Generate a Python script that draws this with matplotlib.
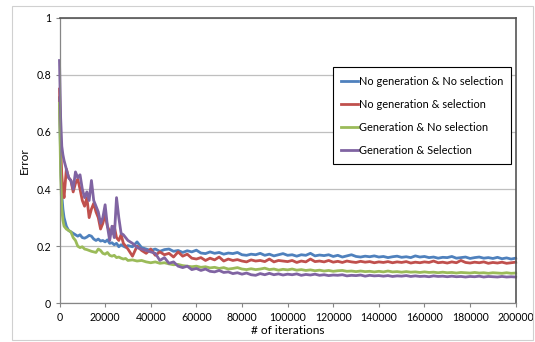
import matplotlib
matplotlib.use("Agg")
import matplotlib.pyplot as plt
from matplotlib.patches import Rectangle

plt.rcParams.update({"font.family": ["Lato", "DejaVu Sans"]})

# iterations: fine steps at the start, then every 2000
iters_early = [0, 500, 1000, 1500] + list(range(2000, 30001, 1000))
iters_late = list(range(32000, 200001, 2000))
iters = iters_early + iters_late

labels = ["No generation & No selection", "No generation & selection",
          "Generation & No selection", "Generation & Selection"]
colors = ["#4F81BD", "#C0504D", "#9BBB59", "#8064A2"]

no_gen_no_sel = [
    0.72, 0.50, 0.38, 0.33, 0.30, 0.27, 0.255, 0.25, 0.245, 0.24, 0.235, 0.24, 0.23,
    0.228, 0.232, 0.238, 0.235, 0.225, 0.22, 0.225, 0.218, 0.22, 0.215, 0.222, 0.21,
    0.212, 0.205, 0.21, 0.198, 0.205, 0.20, 0.196, 0.202,
    0.198, 0.215, 0.195, 0.19, 0.185, 0.19, 0.182, 0.188, 0.19, 0.182,
    0.185, 0.178, 0.184, 0.18, 0.186, 0.176, 0.174, 0.18, 0.175, 0.178,
    0.172, 0.176, 0.174, 0.178, 0.17, 0.168, 0.172, 0.17, 0.175, 0.168,
    0.172, 0.166, 0.17, 0.174, 0.168, 0.17, 0.165, 0.17, 0.168, 0.175,
    0.166, 0.169, 0.167, 0.17, 0.164, 0.168, 0.162, 0.166, 0.17, 0.164,
    0.162, 0.165, 0.163, 0.166, 0.162, 0.164, 0.16, 0.163, 0.165, 0.161,
    0.163, 0.16, 0.166, 0.162, 0.164, 0.16, 0.162, 0.158, 0.161, 0.16,
    0.164, 0.158, 0.16, 0.162, 0.157, 0.16, 0.162, 0.158, 0.16, 0.157,
    0.161, 0.156, 0.159, 0.155, 0.158,
]
no_gen_sel = [
    0.75, 0.55, 0.45, 0.40, 0.37, 0.47, 0.44, 0.43, 0.39, 0.42, 0.435, 0.40, 0.36,
    0.34, 0.37, 0.30, 0.33, 0.35, 0.32, 0.30, 0.26, 0.28, 0.31, 0.27, 0.25,
    0.245, 0.27, 0.23, 0.22, 0.24, 0.21, 0.20, 0.19,
    0.165, 0.20, 0.185, 0.175, 0.19, 0.168, 0.18, 0.17, 0.175, 0.162,
    0.18, 0.165, 0.172, 0.158, 0.155, 0.16, 0.15, 0.158, 0.152, 0.162,
    0.148, 0.155, 0.15, 0.153, 0.148, 0.145, 0.152, 0.148, 0.15, 0.146,
    0.155, 0.145, 0.15, 0.148, 0.146, 0.15, 0.143, 0.148, 0.145, 0.155,
    0.146, 0.148, 0.145, 0.15, 0.144, 0.147, 0.143, 0.148, 0.145, 0.143,
    0.147, 0.144, 0.146, 0.142, 0.145, 0.143, 0.146, 0.142, 0.145, 0.143,
    0.146, 0.141, 0.144, 0.142, 0.145, 0.143, 0.148, 0.142, 0.144, 0.141,
    0.145, 0.142, 0.15, 0.143, 0.141, 0.144, 0.142, 0.145, 0.14, 0.143,
    0.141, 0.144, 0.14, 0.142, 0.144,
]
gen_no_sel = [
    0.70, 0.45, 0.33, 0.29, 0.27, 0.26, 0.255, 0.25, 0.23, 0.22, 0.20, 0.195, 0.198,
    0.19, 0.188, 0.185, 0.182, 0.18, 0.178, 0.19, 0.185, 0.175, 0.172, 0.178, 0.168,
    0.165, 0.168, 0.16, 0.162, 0.158, 0.155, 0.157, 0.15,
    0.152, 0.148, 0.15, 0.145, 0.142, 0.145, 0.14, 0.142, 0.138, 0.135,
    0.136, 0.132, 0.13, 0.128, 0.13, 0.126, 0.128, 0.124, 0.126, 0.122,
    0.125, 0.12, 0.122, 0.125, 0.12, 0.118, 0.121, 0.118, 0.12, 0.123,
    0.118, 0.12, 0.116, 0.119, 0.117, 0.12, 0.116, 0.118, 0.115, 0.117,
    0.114, 0.116, 0.113, 0.115, 0.112, 0.114, 0.115, 0.112, 0.113, 0.111,
    0.113, 0.111, 0.112, 0.11, 0.112, 0.11, 0.113, 0.11, 0.111, 0.109,
    0.111, 0.109, 0.11, 0.108, 0.11, 0.108, 0.109, 0.107, 0.109, 0.107,
    0.108, 0.106, 0.108, 0.107, 0.106, 0.108, 0.106, 0.107, 0.105, 0.107,
    0.106, 0.105, 0.107, 0.105, 0.106,
]
gen_sel = [
    0.85, 0.65, 0.55, 0.52, 0.50, 0.47, 0.44, 0.43, 0.40, 0.46, 0.44, 0.45, 0.40,
    0.37, 0.39, 0.36, 0.43, 0.36, 0.34, 0.32, 0.28, 0.30, 0.345, 0.27, 0.22,
    0.27, 0.23, 0.37, 0.30, 0.245, 0.24, 0.23, 0.22,
    0.21, 0.195, 0.19, 0.185, 0.18, 0.175, 0.15, 0.16, 0.14, 0.145,
    0.13, 0.125, 0.13, 0.118, 0.122, 0.115, 0.12, 0.112, 0.11, 0.115,
    0.108, 0.11, 0.104, 0.107, 0.102, 0.106, 0.10, 0.098, 0.104, 0.10,
    0.105, 0.10, 0.103, 0.099, 0.102, 0.10, 0.103, 0.098, 0.101, 0.099,
    0.102, 0.098, 0.10, 0.097, 0.099, 0.098, 0.10, 0.096, 0.098, 0.097,
    0.099, 0.095, 0.098, 0.096, 0.097, 0.095, 0.097, 0.094, 0.096, 0.095,
    0.097, 0.094, 0.096, 0.094, 0.095, 0.093, 0.096, 0.094, 0.095, 0.093,
    0.095, 0.093, 0.094, 0.092, 0.094, 0.093, 0.095, 0.092, 0.094, 0.093,
    0.092, 0.094, 0.092, 0.093, 0.092,
]
series = [no_gen_no_sel, no_gen_sel, gen_no_sel, gen_sel]

W, H = 535, 342
fig = plt.figure(figsize=(W / 100, H / 100), dpi=100)
fig.patches.append(Rectangle((12 / W, 1 - 340 / H), 521 / W, 334 / H,
                             transform=fig.transFigure, fill=False,
                             ec="#d0d0d0", lw=0.8))
ax = fig.add_axes([59.5 / W, 1 - 303.3 / H, 456.2 / W, 285.6 / H])

for ys, lab, c in zip(series, labels, colors):
    ax.plot(iters, ys, color=c, lw=2.0, label=lab, solid_joinstyle="round",
            clip_on=False)

ax.set_xlim(0, 200000)
ax.set_ylim(0, 1)
ax.set_xticks(range(0, 200001, 20000))
ax.set_yticks([0, 0.2, 0.4, 0.6, 0.8, 1])
ax.set_yticklabels(["0", "0.2", "0.4", "0.6", "0.8", "1"])
ax.grid(axis="y", color="#bfbfbf", lw=0.9)
ax.set_axisbelow(True)
for s in ["top", "right"]:
    ax.spines[s].set_color("#555555")
    ax.spines[s].set_linewidth(1.2)
for s in ["left", "bottom"]:
    ax.spines[s].set_color("#868686")
    ax.spines[s].set_linewidth(0.9)
ax.tick_params(length=3, width=0.8, color="#868686", labelsize=7.6, pad=3)
ax.set_xlabel("# of iterations", fontsize=8.6, labelpad=2)
ax.set_ylabel("Error", fontsize=8.6, labelpad=5)

leg = ax.legend(loc="upper left", bbox_to_anchor=(0.5995, 0.826), borderaxespad=0,
                fontsize=7.9, handlelength=1.5, handletextpad=0.1, labelspacing=1.1,
                frameon=True, fancybox=False, edgecolor="black", framealpha=1,
                borderpad=0.75)
leg.get_frame().set_linewidth(0.8)

fig.savefig("out.png", dpi=100)
